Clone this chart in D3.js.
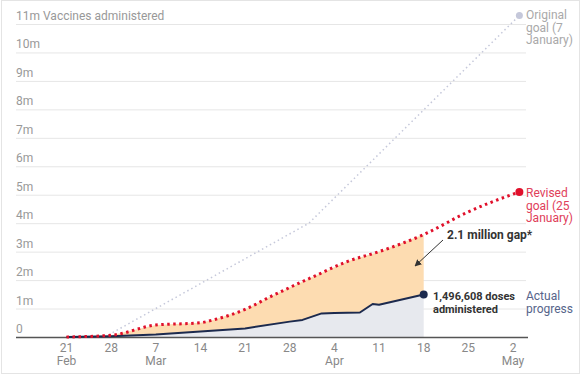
<!DOCTYPE html>
<html>
<head>
<meta charset="utf-8">
<script src="https://cdn.jsdelivr.net/npm/d3@7"></script>
<style>
  body { margin: 0; background: #fff; font-family: Roboto, "Noto Sans", sans-serif; }
  svg text { font-family: Roboto, "Noto Sans", sans-serif; }
</style>
</head>
<body>
<svg id="chart"></svg>
<script>
const width = 582,
      height = 375;

// values in millions of doses
const actualDates = ["2021-02-21", "2021-02-28", "2021-03-07", "2021-03-14", "2021-03-21", "2021-03-28", "2021-03-30", "2021-04-02", "2021-04-04", "2021-04-08", "2021-04-10", "2021-04-11", "2021-04-18"];
const actualValues = [0, 0.03, 0.09, 0.19, 0.3, 0.54, 0.6, 0.83, 0.84, 0.86, 1.16, 1.13, 1.496608];

const revisedDates = ["2021-02-21", "2021-02-28", "2021-03-07", "2021-03-14", "2021-03-16", "2021-03-21", "2021-03-25", "2021-03-28", "2021-04-01", "2021-04-06", "2021-04-11", "2021-04-18", "2021-04-25", "2021-05-03"];
const revisedValues = [0, 0.06, 0.42, 0.5, 0.6, 0.97, 1.42, 1.74, 2.15, 2.65, 3.0, 3.6, 4.4, 5.1];

const originalDates = ["2021-02-27", "2021-03-31", "2021-05-03"];
const originalValues = [0, 4, 11.3];

const yTicks = [0, 1, 2, 3, 4, 5, 6, 7, 8, 9, 10, 11];
const xTickDates = ["2021-02-21", "2021-02-28", "2021-03-07", "2021-03-14", "2021-03-21", "2021-03-28", "2021-04-04", "2021-04-11", "2021-04-18", "2021-04-25", "2021-05-02"];
const monthLabels = { "2021-02-21": "Feb", "2021-03-07": "Mar", "2021-04-04": "Apr", "2021-05-02": "May" };

const parse = d3.utcParse("%Y-%m-%d");
const zip = (dates, values) => dates.map((d, i) => ({ date: parse(d), value: values[i] }));

const actual = zip(actualDates, actualValues);
const revised = zip(revisedDates, revisedValues);
const original = zip(originalDates, originalValues);

const svg = d3.select("#chart")
  .attr("width", width)
  .attr("height", height);

const x = d3.scaleUtc()
  .domain([parse("2021-02-21"), parse("2021-05-02")])
  .range([66.5, 513]);

const y = d3.scaleLinear()
  .domain([0, 11])
  .range([337, 24]);

const plotLeft = 16, plotRight = 526;

// frame
svg.append("rect")
  .attr("x", 1.5).attr("y", 0.5)
  .attr("width", 578).attr("height", 373)
  .attr("fill", "none")
  .attr("stroke", "#e4e4e4");

// gridlines + y labels
const grid = svg.append("g");
grid.selectAll("line")
  .data(yTicks.filter(d => d > 0))
  .join("line")
  .attr("x1", plotLeft).attr("x2", plotRight)
  .attr("y1", d => y(d) + 0.5).attr("y2", d => y(d) + 0.5)
  .attr("stroke", "#e6e6e6");

grid.selectAll("text")
  .data(yTicks)
  .join("text")
  .attr("x", plotLeft)
  .attr("y", d => y(d) - 4)
  .attr("fill", "#999")
  .attr("font-size", "12px")
  .text(d => d === 0 ? "0" : d === 11 ? "11m Vaccines administered" : d + "m");

// interpolate both series at shared dates for the gap area
const revInterp = d3.scaleUtc()
  .domain(revised.map(d => d.date))
  .range(revised.map(d => d.value));
const actInterp = d3.scaleUtc()
  .domain(actual.map(d => d.date))
  .range(actual.map(d => d.value));

const gapDates = Array.from(new Set(
  actual.map(d => +d.date).concat(revised.filter(d => d.date <= parse("2021-04-18")).map(d => +d.date))
)).sort((a, b) => a - b).map(t => new Date(t));

const gap = gapDates.map(d => ({ date: d, lo: actInterp(d), hi: revInterp(d) }));

svg.append("path")
  .datum(gap)
  .attr("fill", "#fddcb1")
  .attr("d", d3.area()
    .x(d => x(d.date))
    .y0(d => y(d.lo))
    .y1(d => y(d.hi)));

svg.append("path")
  .datum(actual)
  .attr("fill", "#e7e9ee")
  .attr("d", d3.area()
    .x(d => x(d.date))
    .y0(y(0))
    .y1(d => y(d.value)));

// original goal
svg.append("path")
  .datum(original)
  .attr("fill", "none")
  .attr("stroke", "#c5c8da")
  .attr("stroke-width", 1.5)
  .attr("stroke-dasharray", "1.5,3")
  .attr("d", d3.line().x(d => x(d.date)).y(d => y(d.value)));

svg.append("circle")
  .attr("cx", x(original[original.length - 1].date))
  .attr("cy", y(original[original.length - 1].value))
  .attr("r", 3.5)
  .attr("fill", "#c5c8da");

// axis baseline
svg.append("line")
  .attr("x1", plotLeft).attr("x2", 528)
  .attr("y1", y(0) + 0.5).attr("y2", y(0) + 0.5)
  .attr("stroke", "#555")
  .attr("stroke-width", 1.5);

// actual progress
svg.append("path")
  .datum(actual)
  .attr("fill", "none")
  .attr("stroke", "#1c2a4e")
  .attr("stroke-width", 2)
  .attr("stroke-linejoin", "round")
  .attr("d", d3.line().x(d => x(d.date)).y(d => y(d.value)));

svg.append("circle")
  .attr("cx", x(actual[actual.length - 1].date))
  .attr("cy", y(actual[actual.length - 1].value))
  .attr("r", 4)
  .attr("fill", "#1c2a4e");

// revised goal
svg.append("path")
  .datum(revised)
  .attr("fill", "none")
  .attr("stroke", "#e0102b")
  .attr("stroke-width", 3)
  .attr("stroke-dasharray", "2.5,3.5")
  .attr("d", d3.line().curve(d3.curveMonotoneX).x(d => x(d.date)).y(d => y(d.value)));

svg.append("circle")
  .attr("cx", x(revised[revised.length - 1].date))
  .attr("cy", y(revised[revised.length - 1].value))
  .attr("r", 4)
  .attr("fill", "#e0102b");

// x labels
const xt = svg.append("g")
  .attr("font-size", "12px")
  .attr("fill", "#888")
  .attr("text-anchor", "middle");

xTickDates.forEach(ds => {
  const d = parse(ds);
  xt.append("text")
    .attr("x", x(d))
    .attr("y", 352)
    .text(d3.utcFormat("%-d")(d));
  if (monthLabels[ds]) {
    xt.append("text")
      .attr("x", x(d))
      .attr("y", 365)
      .text(monthLabels[ds]);
  }
});

// right-hand labels
function label(lines, xPos, yPos, color, weight, size) {
  const t = svg.append("text")
    .attr("x", xPos)
    .attr("y", yPos)
    .attr("fill", color)
    .attr("font-size", size || "12px")
    .attr("font-weight", weight || "normal");
  lines.forEach((l, i) => {
    t.append("tspan").attr("x", xPos).attr("dy", i === 0 ? 0 : 12.5).text(l);
  });
}

label(["Original", "goal (7", "January)"], 526, 19, "#a9a9a9");
label(["Revised", "goal (25", "January)"], 526, 197, "#e0405a");
label(["Actual", "progress"], 526, 300, "#56648a");
label(["1,496,608 doses", "administered"], 433, 300, "#333", "bold", "11px");
label(["2.1 million gap*"], 447, 239, "#333", "bold", "12px");

// arrow
svg.append("defs").append("marker")
  .attr("id", "arrow")
  .attr("viewBox", "0 0 10 10")
  .attr("refX", 9).attr("refY", 5)
  .attr("markerWidth", 7).attr("markerHeight", 7)
  .attr("orient", "auto")
  .append("path")
  .attr("d", "M0,0L10,5L0,10z")
  .attr("fill", "#333");

svg.append("line")
  .attr("x1", 443).attr("y1", 240)
  .attr("x2", 415).attr("y2", 266)
  .attr("stroke", "#333")
  .attr("stroke-width", 1)
  .attr("marker-end", "url(#arrow)");
</script>
</body>
</html>
